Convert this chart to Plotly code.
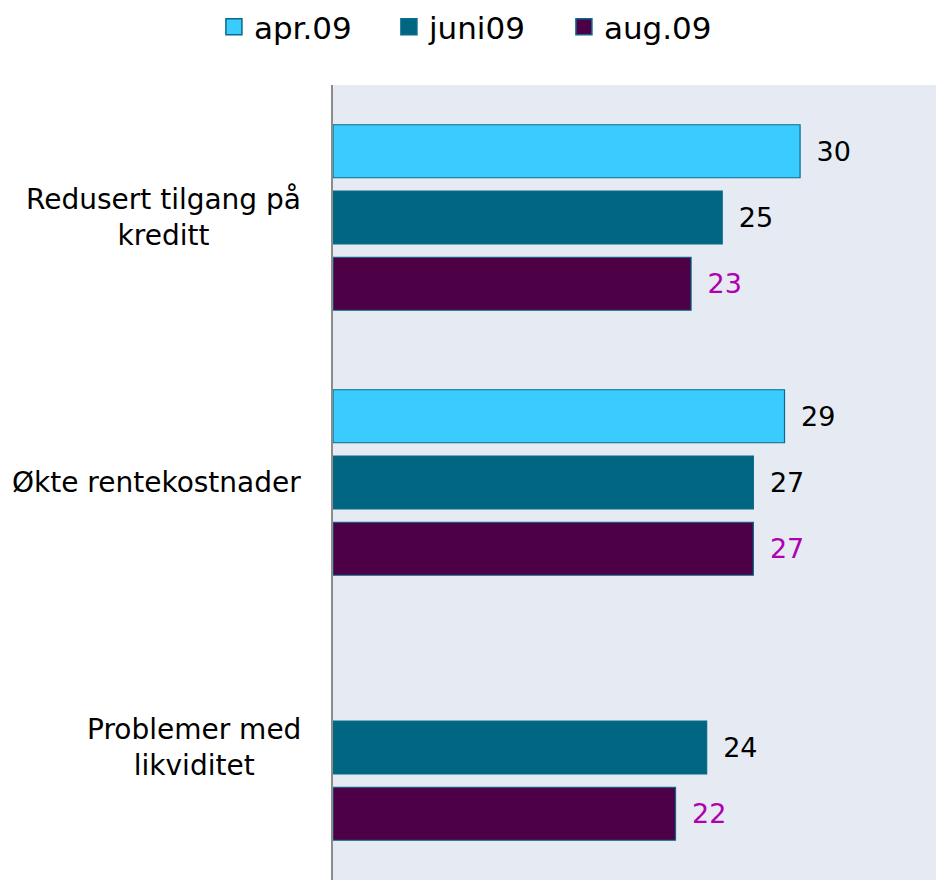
import plotly.graph_objects as go

categories = ["Redusert tilgang på<br>kreditt", "Økte rentekostnader", "Problemer med<br>likviditet"]
series_names = ["apr.09", "juni09", "aug.09"]
apr09 = [30, 29, None]
juni09 = [25, 27, 24]
aug09 = [23, 27, 22]
values = [apr09, juni09, aug09]

colors = ["#3BCCFF", "#006682", "#4D0045"]
label_colors = ["#000000", "#000000", "#B000B0"]
FONT = "DejaVu Sans"
OUTLINE = "#0A6A8A"

fig = go.Figure()
for name, vals, col, lcol in zip(series_names, values, colors, label_colors):
    fig.add_trace(go.Bar(
        name=name, y=categories, x=vals, orientation="h", showlegend=False,
        marker=dict(color=col, line=dict(color=OUTLINE, width=1.2)),
        text=[None if v is None else "\u2002" + str(v) for v in vals],
        textposition="outside", cliponaxis=False, constraintext="none",
        textfont=dict(family=FONT, size=27, color=lcol),
    ))

# legend entries with larger square swatches
for name, col in zip(series_names, colors):
    fig.add_trace(go.Scatter(
        name=name, x=[None], y=[None], mode="markers", showlegend=True,
        marker=dict(symbol="square", size=20, color=col,
                    line=dict(color=OUTLINE, width=1.5)),
    ))

for cat in categories:
    fig.add_annotation(
        x=0, xref="paper", y=cat, yref="y", xanchor="right", xshift=-30,
        text=cat, showarrow=False, align="center",
        font=dict(family=FONT, size=28, color="#000000"),
    )

fig.update_layout(
    width=936, height=880,
    margin=dict(l=333, r=0, t=85, b=0),
    paper_bgcolor="white", plot_bgcolor="#E6EBF3",
    barmode="group", bargap=0.25, bargroupgap=0.2,
    font=dict(family=FONT, size=27, color="#000000"),
    legend=dict(
        orientation="h", xref="container", yref="container",
        x=0.509, xanchor="center", y=1.0, yanchor="top",
        font=dict(family=FONT, size=31, color="#000000"),
        bgcolor="rgba(0,0,0,0)", traceorder="normal",
        entrywidth=130, itemsizing="trace",
    ),
    showlegend=True,
    xaxis=dict(range=[0, 38.73], showgrid=False, zeroline=False,
               showticklabels=False, ticks="", showline=False),
    yaxis=dict(autorange="reversed", showgrid=False, zeroline=False,
               showticklabels=False, ticks="", showline=True,
               linecolor="#8C8C8C", linewidth=2),
)

fig.write_html(
    "out.html",
    config={"displayModeBar": False},
    post_script="document.body.style.margin='0';document.body.style.overflow='hidden';",
)
